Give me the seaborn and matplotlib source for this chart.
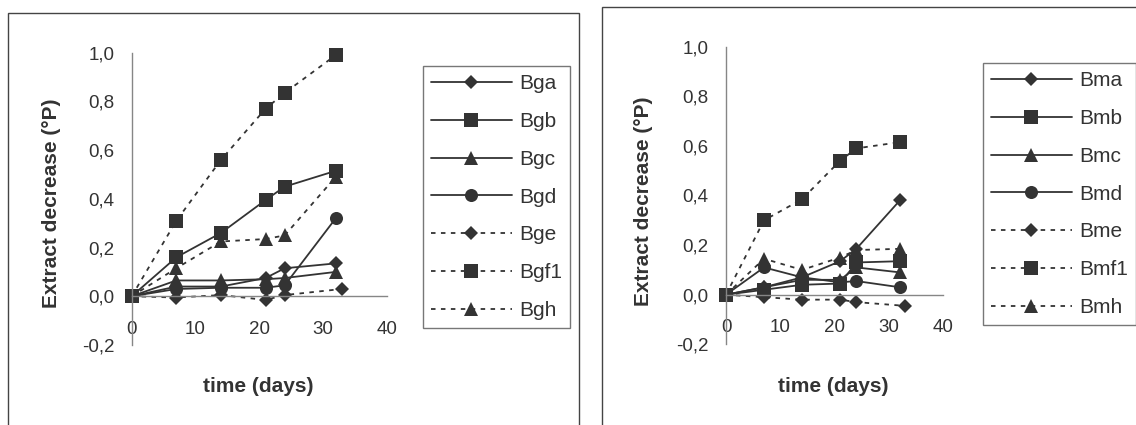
import matplotlib
matplotlib.use('Agg')
import matplotlib.pyplot as plt
import seaborn as sns
import pandas as pd
from matplotlib.lines import Line2D
from matplotlib.patches import Rectangle
from matplotlib.ticker import FuncFormatter

# time axis (the "e" series has its last sample one day later)
days = [0, 7, 14, 21, 24, 32]
days_e = [0, 7, 14, 21, 24, 33]

# left panel
left_names = ['Bga', 'Bgb', 'Bgc', 'Bgd', 'Bge', 'Bgf1', 'Bgh']
bga = [0, 0.04, 0.04, 0.075, 0.115, 0.135]
bgb = [0, 0.16, 0.26, 0.395, 0.45, 0.515]
bgc = [0, 0.065, 0.065, 0.07, 0.075, 0.10]
bgd = [0, 0.03, 0.035, 0.035, 0.045, 0.32]
bge = [0, -0.005, 0.005, -0.015, 0.005, 0.03]
bgf1 = [0, 0.31, 0.56, 0.77, 0.835, 0.99]
bgh = [0, 0.115, 0.225, 0.235, 0.25, 0.49]

# right panel
right_names = ['Bma', 'Bmb', 'Bmc', 'Bmd', 'Bme', 'Bmf1', 'Bmh']
bma = [0, 0.03, 0.07, 0.135, 0.185, 0.38]
bmb = [0, 0.02, 0.04, 0.045, 0.13, 0.135]
bmc = [0, 0.03, 0.06, 0.06, 0.11, 0.09]
bmd = [0, 0.11, 0.07, 0.05, 0.055, 0.03]
bme = [0, -0.01, -0.02, -0.02, -0.03, -0.045]
bmf1 = [0, 0.30, 0.385, 0.54, 0.59, 0.615]
bmh = [0, 0.145, 0.10, 0.15, 0.18, 0.185]

y_ticks = [-0.2, 0.0, 0.2, 0.4, 0.6, 0.8, 1.0]
x_ticks = [0, 10, 20, 30, 40]

marker_list = ['D', 's', '^', 'o', 'D', 's', '^']
dash_list = ['', '', '', '', (2.5, 3), (2.5, 3), (2.5, 3)]

sns.set_style('white')
plt.rcParams['font.family'] = ['Liberation Sans', 'DejaVu Sans']

ink = '#333333'
grey = '#868686'


def long_table(names, series):
    rows = []
    for name, vals in zip(names, series):
        xs = days_e if name.endswith('e') else days
        for x, y in zip(xs, vals):
            rows.append((name, x, y))
    return pd.DataFrame(rows, columns=['series', 'time', 'value'])


def draw(ax, df, names):
    sns.lineplot(data=df, x='time', y='value', hue='series', style='series',
                 hue_order=names, style_order=names,
                 palette={n: ink for n in names},
                 markers=dict(zip(names, marker_list)),
                 dashes=dict(zip(names, dash_list)),
                 markersize=9.4, markeredgewidth=0, linewidth=1.3,
                 estimator=None, legend=False, clip_on=False, ax=ax)
    for line in ax.lines:
        if line.get_marker() == 'D':
            line.set_markersize(6.8)

    ax.set_xlim(0, 40)
    ax.set_ylim(-0.2, 1.0)
    ax.set_xticks(x_ticks)
    ax.set_yticks(y_ticks)
    ax.yaxis.set_major_formatter(FuncFormatter(lambda v, _: f'{v:.1f}'.replace('.', ',')))
    ax.spines['bottom'].set_position(('data', 0))
    ax.spines['left'].set_position(('data', 0))
    ax.spines['top'].set_visible(False)
    ax.spines['right'].set_visible(False)
    for s in ('bottom', 'left'):
        ax.spines[s].set_color(grey)
        ax.spines[s].set_linewidth(1)
    ax.tick_params(direction='out', length=3.6, width=1, color=grey,
                   labelcolor=ink, labelsize=13.5)
    ax.tick_params(axis='y', pad=9)
    ax.tick_params(axis='x', pad=14)
    ax.set_xlabel('time (days)', fontsize=15, fontweight='bold', color=ink)
    ax.set_ylabel('Extract decrease (°P)', fontsize=15, fontweight='bold', color=ink)
    ax.patch.set_alpha(0)


def legend_handles(names):
    hs = []
    for n, m, d in zip(names, marker_list, dash_list):
        h = Line2D([], [], color=ink, marker=m, markersize=6.8 if m == 'D' else 9.4,
                   markeredgewidth=0, linewidth=1.3)
        if d:
            h.set_dashes(d)
        hs.append(h)
    return hs


fig = plt.figure(figsize=(11.36, 4.25), dpi=100)

# panel frames
fig.add_artist(Rectangle((8 / 1136, -0.05), 571 / 1136, 412 / 425 + 0.05,
                         transform=fig.transFigure, fill=False, ec='#444444', lw=1))
fig.add_artist(Rectangle((602 / 1136, -0.05), 1.0, 418 / 425 + 0.05,
                         transform=fig.transFigure, fill=False, ec='#444444', lw=1))

ax1 = fig.add_axes([131.7 / 1136, 80 / 425, 255 / 1136, 292.3 / 425])
ax2 = fig.add_axes([726 / 1136, 80.7 / 425, 217.3 / 1136, 297.6 / 425])

draw(ax1, long_table(left_names, [bga, bgb, bgc, bgd, bge, bgf1, bgh]), left_names)
draw(ax2, long_table(right_names, [bma, bmb, bmc, bmd, bme, bmf1, bmh]), right_names)

ax1.yaxis.set_label_coords(-0.278, 0.484)
ax1.xaxis.set_label_coords(0.4965, -0.108)
ax2.yaxis.set_label_coords(-0.335, 0.48)
ax2.xaxis.set_label_coords(0.494, -0.109)

leg_kw = dict(loc='upper left', frameon=True, fancybox=False, fontsize=15,
              handlelength=3.85, labelspacing=0.9, borderpad=0.4,
              handletextpad=0.35, borderaxespad=0, labelcolor=ink)
l1 = fig.legend(legend_handles(left_names), left_names,
                bbox_to_anchor=(423 / 1136, (425 - 66) / 425), **leg_kw)
l2 = fig.legend(legend_handles(right_names), right_names,
                bbox_to_anchor=(983 / 1136, (425 - 63) / 425), **leg_kw)
for lg in (l1, l2):
    lg.get_frame().set_edgecolor('#555555')
    lg.get_frame().set_linewidth(1)

fig.savefig('out.png', dpi=100)
